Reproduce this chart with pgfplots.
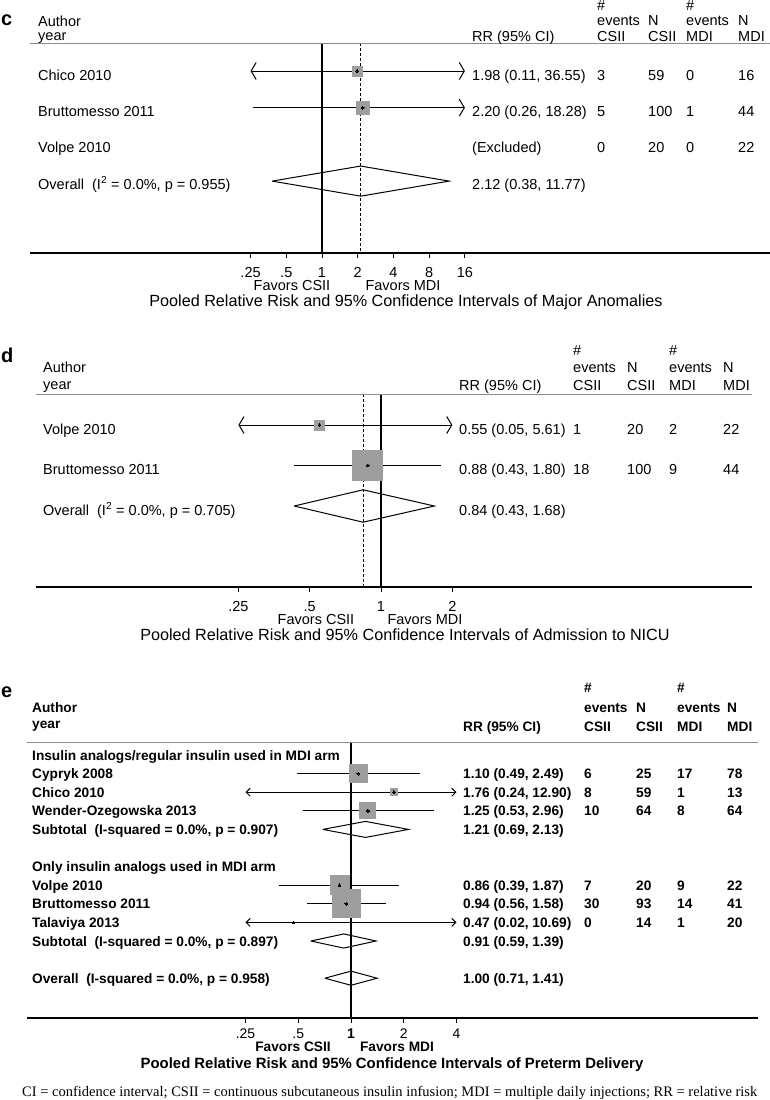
\documentclass[border=0pt]{standalone}
\usepackage{pgfplots}
\pgfplotsset{compat=1.18}
\usetikzlibrary{arrows.meta}
\usepackage{fontspec}
\setmainfont{Liberation Sans}
\newfontfamily\seriffont{Liberation Serif}
\definecolor{sqgray}{gray}{0.62}
\definecolor{sepgray}{gray}{0.55}
\newcommand\fs{\fontsize{14.5bp}{17bp}\selectfont}
\newcommand\fe{\fontsize{13.7bp}{16bp}\selectfont\bfseries}
\newcommand\ft{\fontsize{16.2bp}{19bp}\selectfont}
\newcommand\T[3]{\node[anchor=base west,inner sep=0pt] at (#1bp,-#2bp) {#3};}
\newcommand\C[3]{\node[anchor=base,inner sep=0pt] at (#1bp,-#2bp) {#3};}

\pgfplotsset{
  fpaxis/.style={
    scale only axis, anchor=north west, clip=false,
    axis x line=bottom, axis y line=none,
    x axis line style={-, line width=1.1bp},
    tick align=outside, major tick length=5bp,
    xtick style={black, line width=0.9bp},
    minor xtick={},
    xticklabel style={anchor=base, inner sep=0pt, yshift=-19bp, font=\fs},
  },
  ci/.style={black, line width=1bp, mark=none},
  sq/.style={only marks, mark=square*, mark options={fill=sqgray, draw=sqgray, line width=0pt}},
  dot/.style={only marks, mark=*, mark size=1.4bp, mark options={fill=black, draw=black, line width=0pt}},
  dia/.style={black, line width=1bp, mark=none, line join=miter},
  ref/.style={black, line width=1.1bp, mark=none},
  est/.style={black, line width=0.8bp, mark=none, dash pattern=on 3bp off 2bp},
  bb/.style={arrows={Straight Barb[length=5bp,width=17bp]-Straight Barb[length=5bp,width=17bp]}},
  rb/.style={arrows={-Straight Barb[length=5bp,width=17bp]}},
  sb/.style={arrows={Straight Barb[length=4bp,width=8bp]-Straight Barb[length=4bp,width=8bp]}},
}

\begin{document}
\begin{tikzpicture}
\fill[white] (0,0) rectangle (770bp,-1100bp);
\path[use as bounding box] (0,0) rectangle (770bp,-1100bp);

%================ Panel c =================
\begin{axis}[xmode=log, fpaxis, at={(30bp,-43bp)}, width=740bp, height=210bp,
  xmin=0.00346, xmax=5963, ymin=-5.959, ymax=-0.237,
  xtick={0.25,0.5,1,2,4,8,16},
  xticklabels={\mbox{.25},\mbox{.5},\mbox{1},\mbox{2},\mbox{4},\mbox{8},\mbox{16}}]
\addplot[est] coordinates {(2.12,-0.237) (2.12,-5.959)};
% Chico 2010
\addplot[ci, bb] coordinates {(0.25,-1) (16,-1)};
\addplot[sq, mark size=5bp] coordinates {(1.98,-1)};
\addplot[dot] coordinates {(1.98,-1)};
% Bruttomesso 2011
\addplot[ci, rb] coordinates {(0.26,-2) (16,-2)};
\addplot[sq, mark size=6.5bp] coordinates {(2.20,-2)};
\addplot[dot] coordinates {(2.20,-2)};
% Overall
\addplot[dia] coordinates {(0.38,-4) (2.12,-3.59) (11.77,-4) (2.12,-4.41) (0.38,-4)};
\addplot[ref] coordinates {(1,-0.237) (1,-5.959)};
\end{axis}
\draw[sepgray, line width=0.8bp] (30bp,-43bp) -- (770bp,-43bp);

\begin{scope}[font=\fs]
\node[anchor=base west, inner sep=0pt, font=\fontsize{20bp}{22bp}\selectfont\bfseries] at (1bp,-25bp) {c};
\T{38}{26}{Author}
\T{38}{40}{year}
\T{472}{41}{RR (95\% CI)}
\T{597}{10}{\#}\T{597}{25}{events}\T{597}{41}{CSII}
\T{648}{25}{N}\T{648}{41}{CSII}
\T{686}{10}{\#}\T{686}{25}{events}\T{686}{41}{MDI}
\T{738}{25}{N}\T{738}{41}{MDI}
\T{38}{80}{Chico 2010}
\T{472}{80}{1.98 (0.11, 36.55)}\T{597}{80}{3}\T{648}{80}{59}\T{686}{80}{0}\T{738}{80}{16}
\T{38}{116.5}{Bruttomesso 2011}
\T{472}{116.5}{2.20 (0.26, 18.28)}\T{597}{116.5}{5}\T{648}{116.5}{100}\T{686}{116.5}{1}\T{738}{116.5}{44}
\T{38}{152.5}{Volpe 2010}
\T{472}{152.5}{(Excluded)}\T{597}{152.5}{0}\T{648}{152.5}{20}\T{686}{152.5}{0}\T{738}{152.5}{22}
\T{38}{189}{Overall\ \ (I\textsuperscript{2} = 0.0\%, p = 0.955)}
\T{472}{189}{2.12 (0.38, 11.77)}
\C{292}{290}{Favors CSII}
\C{403}{290}{Favors MDI}
\node[anchor=base, inner sep=0pt, font=\ft] at (406bp,-306bp) {Pooled Relative Risk and 95\% Confidence Intervals of Major Anomalies};
\end{scope}

%================ Panel d =================
\begin{axis}[xmode=log, fpaxis, at={(36bp,-394bp)}, width=716bp, height=193bp,
  xmin=0.03494, xmax=36.84, ymin=-5.0, ymax=-0.2346,
  xtick={0.25,0.5,1,2},
  xticklabels={\mbox{.25},\mbox{.5},\mbox{1},\mbox{2}}]
\addplot[est] coordinates {(0.84,-0.2346) (0.84,-5.0)};
% Volpe 2010
\addplot[ci, bb] coordinates {(0.25,-1) (2,-1)};
\addplot[sq, mark size=5bp] coordinates {(0.55,-1)};
\addplot[dot] coordinates {(0.55,-1)};
% Bruttomesso 2011
\addplot[ci] coordinates {(0.43,-2) (1.80,-2)};
\addplot[sq, mark size=15bp] coordinates {(0.88,-2)};
\addplot[dot] coordinates {(0.88,-2)};
% Overall
\addplot[dia] coordinates {(0.43,-3) (0.84,-2.60) (1.68,-3) (0.84,-3.40) (0.43,-3)};
\addplot[ref] coordinates {(1,-0.2346) (1,-5.0)};
\end{axis}
\draw[sepgray, line width=0.8bp] (36bp,-394bp) -- (752bp,-394bp);

\begin{scope}[font=\fs]
\node[anchor=base west, inner sep=0pt, font=\fontsize{20bp}{22bp}\selectfont\bfseries] at (1bp,-362bp) {d};
\T{43}{372}{Author}
\T{43}{389}{year}
\T{459}{390}{RR (95\% CI)}
\T{573}{355}{\#}\T{573}{372}{events}\T{573}{390}{CSII}
\T{627}{372}{N}\T{627}{390}{CSII}
\T{669}{355}{\#}\T{669}{372}{events}\T{669}{390}{MDI}
\T{723}{372}{N}\T{723}{390}{MDI}
\T{43}{434}{Volpe 2010}
\T{459}{434}{0.55 (0.05, 5.61)}\T{573}{434}{1}\T{627}{434}{20}\T{669}{434}{2}\T{723}{434}{22}
\T{43}{474.5}{Bruttomesso 2011}
\T{459}{474.5}{0.88 (0.43, 1.80)}\T{573}{474.5}{18}\T{627}{474.5}{100}\T{669}{474.5}{9}\T{723}{474.5}{44}
\T{43}{515}{Overall\ \ (I\textsuperscript{2} = 0.0\%, p = 0.705)}
\T{459}{515}{0.84 (0.43, 1.68)}
\C{316}{624}{Favors CSII}
\C{425}{624}{Favors MDI}
\node[anchor=base, inner sep=0pt, font=\ft] at (405bp,-640bp) {Pooled Relative Risk and 95\% Confidence Intervals of Admission to NICU};
\end{scope}

%================ Panel e =================
\begin{axis}[xmode=log, fpaxis, at={(27bp,-742bp)}, width=731bp, height=276bp,
  xmin=0.01416, xmax=210.3, ymin=-15.14, ymax=-0.301,
  xtick={0.25,0.5,1,2,4},
  xticklabel style={yshift=4bp, font=\fontsize{14bp}{16bp}\selectfont},
  xticklabels={\mbox{.25},\mbox{.5},\mbox{\bfseries 1},\mbox{2},\mbox{4}}]
% Cypryk 2008
\addplot[ci] coordinates {(0.49,-2) (2.49,-2)};
\addplot[sq, mark size=9bp] coordinates {(1.10,-2)};
\addplot[dot] coordinates {(1.10,-2)};
% Chico 2010
\addplot[ci, sb] coordinates {(0.25,-3) (4,-3)};
\addplot[sq, mark size=3.5bp] coordinates {(1.76,-3)};
\addplot[dot] coordinates {(1.76,-3)};
% Wender-Ozegowska 2013
\addplot[ci] coordinates {(0.53,-4) (2.96,-4)};
\addplot[sq, mark size=8bp] coordinates {(1.25,-4)};
\addplot[dot] coordinates {(1.25,-4)};
% Subtotal 1
\addplot[dia] coordinates {(0.69,-5) (1.21,-4.57) (2.13,-5) (1.21,-5.43) (0.69,-5)};
% Volpe 2010
\addplot[ci] coordinates {(0.39,-8) (1.87,-8)};
\addplot[sq, mark size=9.5bp] coordinates {(0.86,-8)};
\addplot[dot] coordinates {(0.86,-8)};
% Bruttomesso 2011
\addplot[ci] coordinates {(0.56,-9) (1.58,-9)};
\addplot[sq, mark size=14bp] coordinates {(0.94,-9)};
\addplot[dot] coordinates {(0.94,-9)};
% Talaviya 2013
\addplot[ci, sb] coordinates {(0.25,-10) (4,-10)};
\addplot[dot] coordinates {(0.47,-10)};
% Subtotal 2
\addplot[dia] coordinates {(0.59,-11) (0.91,-10.62) (1.39,-11) (0.91,-11.38) (0.59,-11)};
% Overall
\addplot[dia] coordinates {(0.71,-13) (1.00,-12.62) (1.41,-13) (1.00,-13.38) (0.71,-13)};
\addplot[ref] coordinates {(1,-0.301) (1,-15.14)};
\end{axis}
\draw[sepgray, line width=0.8bp] (27bp,-742bp) -- (758bp,-742bp);

\begin{scope}[font=\fe]
\node[anchor=base west, inner sep=0pt, font=\fontsize{20bp}{22bp}\selectfont\bfseries] at (1bp,-697bp) {e};
\T{32}{712}{Author}
\T{32}{728}{year}
\T{463}{731}{RR (95\% CI)}
\T{584}{692}{\#}\T{584}{712}{events}\T{584}{731}{CSII}
\T{636}{712}{N}\T{636}{731}{CSII}
\T{677}{692}{\#}\T{677}{712}{events}\T{677}{731}{MDI}
\T{727}{712}{N}\T{727}{731}{MDI}
\T{32}{760}{Insulin analogs/regular insulin used in MDI arm}
\T{32}{778.6}{Cypryk 2008}
\T{463}{778.6}{1.10 (0.49, 2.49)}\T{584}{778.6}{6}\T{636}{778.6}{25}\T{677}{778.6}{17}\T{727}{778.6}{78}
\T{32}{797.2}{Chico 2010}
\T{463}{797.2}{1.76 (0.24, 12.90)}\T{584}{797.2}{8}\T{636}{797.2}{59}\T{677}{797.2}{1}\T{727}{797.2}{13}
\T{32}{815.8}{Wender-Ozegowska 2013}
\T{463}{815.8}{1.25 (0.53, 2.96)}\T{584}{815.8}{10}\T{636}{815.8}{64}\T{677}{815.8}{8}\T{727}{815.8}{64}
\T{32}{834.4}{Subtotal\ \ (I-squared = 0.0\%, p = 0.907)}
\T{463}{834.4}{1.21 (0.69, 2.13)}
\T{32}{871.6}{Only insulin analogs used in MDI arm}
\T{32}{890.2}{Volpe 2010}
\T{463}{890.2}{0.86 (0.39, 1.87)}\T{584}{890.2}{7}\T{636}{890.2}{20}\T{677}{890.2}{9}\T{727}{890.2}{22}
\T{32}{908.8}{Bruttomesso 2011}
\T{463}{908.8}{0.94 (0.56, 1.58)}\T{584}{908.8}{30}\T{636}{908.8}{93}\T{677}{908.8}{14}\T{727}{908.8}{41}
\T{32}{927.4}{Talaviya 2013}
\T{463}{927.4}{0.47 (0.02, 10.69)}\T{584}{927.4}{0}\T{636}{927.4}{14}\T{677}{927.4}{1}\T{727}{927.4}{20}
\T{32}{946}{Subtotal\ \ (I-squared = 0.0\%, p = 0.897)}
\T{463}{946}{0.91 (0.59, 1.39)}
\T{32}{983.2}{Overall\ \ (I-squared = 0.0\%, p = 0.958)}
\T{463}{983.2}{1.00 (0.71, 1.41)}
\C{293}{1051}{Favors CSII}
\C{397}{1051}{Favors MDI}
\node[anchor=base, inner sep=0pt, font=\fontsize{14.9bp}{17bp}\selectfont\bfseries] at (392bp,-1068bp) {Pooled Relative Risk and 95\% Confidence Intervals of Preterm Delivery};
\end{scope}
\node[anchor=base west, inner sep=0pt, font=\seriffont\fontsize{14.5bp}{17bp}\selectfont] at (22bp,-1096bp) {CI = confidence interval; CSII = continuous subcutaneous insulin infusion; MDI = multiple daily injections; RR = relative risk};
\end{tikzpicture}
\end{document}
